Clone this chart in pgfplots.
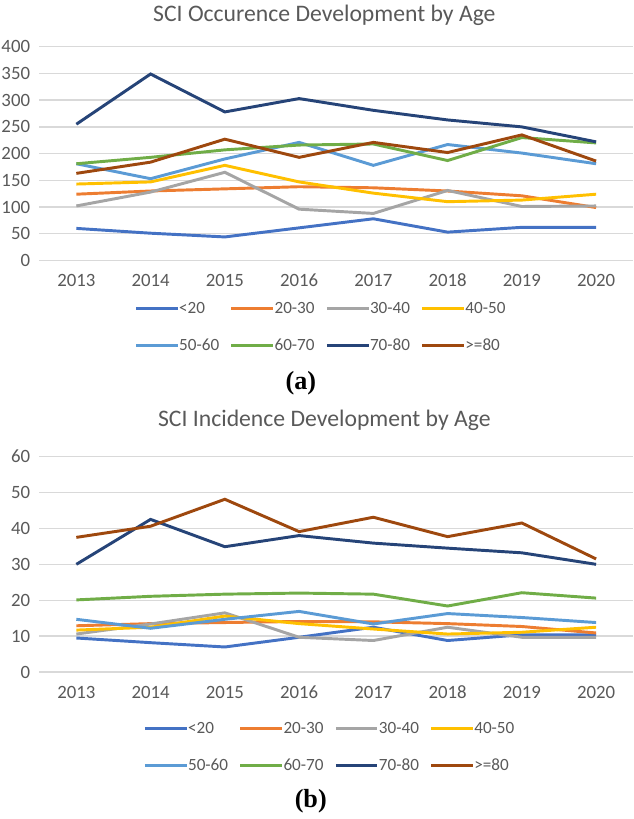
\documentclass[border=0pt]{standalone}
\usepackage{pgfplots}
\usepackage{pgfplotstable}
\pgfplotsset{compat=1.18}
\usepackage{fontspec}
\setmainfont{Carlito}
\newfontfamily\capfont{Liberation Serif}

\definecolor{c1}{HTML}{4472C4}
\definecolor{c2}{HTML}{ED7D31}
\definecolor{c3}{HTML}{A5A5A5}
\definecolor{c4}{HTML}{FFC000}
\definecolor{c5}{HTML}{5B9BD5}
\definecolor{c6}{HTML}{70AD47}
\definecolor{c7}{HTML}{264478}
\definecolor{c8}{HTML}{9E480E}
\definecolor{txt}{HTML}{595959}
\definecolor{gridc}{HTML}{D9D9D9}

\newcommand\legbox[1]{\makebox[29.5pt][l]{\hspace*{-0.8pt}#1}}

% columns: <20, 20-30, 30-40, 40-50, 50-60, 60-70, 70-80, >=80
\pgfplotstableread{
x  a   b   c   d   e   f   g   h
0  60  124 102 143 181 181 255 163
1  51  130 128 147 153 193 349 184
2  44  134 165 178 190 207 278 227
3  61  138 96  147 221 216 303 193
4  78  136 88  126 178 218 281 221
5  53  130 131 110 217 187 263 202
6  62  121 101 113 201 230 250 235
7  62  99  102 124 181 220 222 186
}\occ

\pgfplotstableread{
x  a    b    c    d    e    f    g    h
0  9.5  12.9 10.6 11.7 14.7 20.1 30.0 37.5
1  8.2  13.5 13.4 12.5 12.2 21.1 42.5 40.6
2  7.0  13.8 16.5 15.6 14.7 21.7 34.9 48.1
3  9.7  14.1 9.7  13.5 16.9 22.0 38.0 39.1
4  12.5 14.0 8.8  12.0 13.4 21.7 35.9 43.1
5  8.8  13.5 12.5 10.6 16.3 18.4 34.5 37.7
6  10.4 12.7 9.7  11.1 15.2 22.1 33.2 41.5
7  10.4 10.9 9.7  12.5 13.8 20.6 30.0 31.5
}\inc

\pgfplotsset{
  agechart/.style={
    scale only axis,
    width=363.6pt,
    xmin=-0.5, xmax=7.5,
    xtick={0,1,2,3,4,5,6,7},
    xticklabels={2013,2014,2015,2016,2017,2018,2019,2020},
    axis line style={draw=none},
    major tick length=0pt,
    ymajorgrids,
    grid style={gridc, line width=0.9pt},
    tick label style={font=\fontsize{11.5}{13}\selectfont, text=txt, inner sep=0pt},
    xticklabel style={anchor=center, yshift=-12.3pt},
    yticklabel style={anchor=east, xshift=-5.4pt},
    /pgf/number format/assume math mode=true,
    title style={font=\fontsize{14.5}{16}\selectfont, text=txt, anchor=center, at={(0.48,1)}},
    legend columns=4,
    legend cell align=left,
    legend style={draw=none, fill=none, anchor=north west,
      font=\fontsize{10.5}{12}\selectfont, text=txt,
      nodes={inner xsep=0.8pt, inner ysep=1.5pt},
      row sep=11pt, inner sep=0pt,
      /tikz/every odd column/.append style={column sep=0pt}},
    legend image code/.code={\draw[#1] (0pt,0pt) -- (25.5pt,0pt);},
    every axis plot/.append style={line width=1.8pt, mark=none},
  }
}

\begin{document}
\begin{tikzpicture}
\path (0pt,0pt) rectangle (387.6pt,-491.4pt);

\begin{axis}[agechart,
  at={(24pt,-20.4pt)}, anchor=north west,
  height=130.8pt,
  ymin=0, ymax=400, ytick={0,50,...,400},
  title={SCI Occurence Development by Age},
  title style={yshift=13pt},
  legend style={at={(0.16,-0.182)}},
]
\addplot[c1] table[x=x,y=a]{\occ};
\addplot[c2] table[x=x,y=b]{\occ};
\addplot[c3] table[x=x,y=c]{\occ};
\addplot[c4] table[x=x,y=d]{\occ};
\addplot[c5] table[x=x,y=e]{\occ};
\addplot[c6] table[x=x,y=f]{\occ};
\addplot[c7] table[x=x,y=g]{\occ};
\addplot[c8] table[x=x,y=h]{\occ};
\legend{\legbox{<20},\legbox{20-30},\legbox{30-40},\legbox{40-50},\legbox{50-60},\legbox{60-70},\legbox{70-80},\legbox{>=80}}
\end{axis}

\begin{axis}[agechart,
  at={(24pt,-271.2pt)}, anchor=north west,
  height=132pt,
  ymin=0, ymax=60, ytick={0,10,...,60},
  title={SCI Incidence Development by Age},
  title style={yshift=16.2pt},
  legend style={at={(0.175,-0.218)}},
]
\addplot[c1] table[x=x,y=a]{\inc};
\addplot[c2] table[x=x,y=b]{\inc};
\addplot[c3] table[x=x,y=c]{\inc};
\addplot[c4] table[x=x,y=d]{\inc};
\addplot[c5] table[x=x,y=e]{\inc};
\addplot[c6] table[x=x,y=f]{\inc};
\addplot[c7] table[x=x,y=g]{\inc};
\addplot[c8] table[x=x,y=h]{\inc};
\legend{\legbox{<20},\legbox{20-30},\legbox{30-40},\legbox{40-50},\legbox{50-60},\legbox{60-70},\legbox{70-80},\legbox{>=80}}
\end{axis}

\node[font=\capfont\bfseries\fontsize{16}{18}\selectfont] at (184.2pt,-226.5pt) {(a)};
\node[font=\capfont\bfseries\fontsize{16}{18}\selectfont] at (190.2pt,-482.5pt) {(b)};
\end{tikzpicture}
\end{document}
